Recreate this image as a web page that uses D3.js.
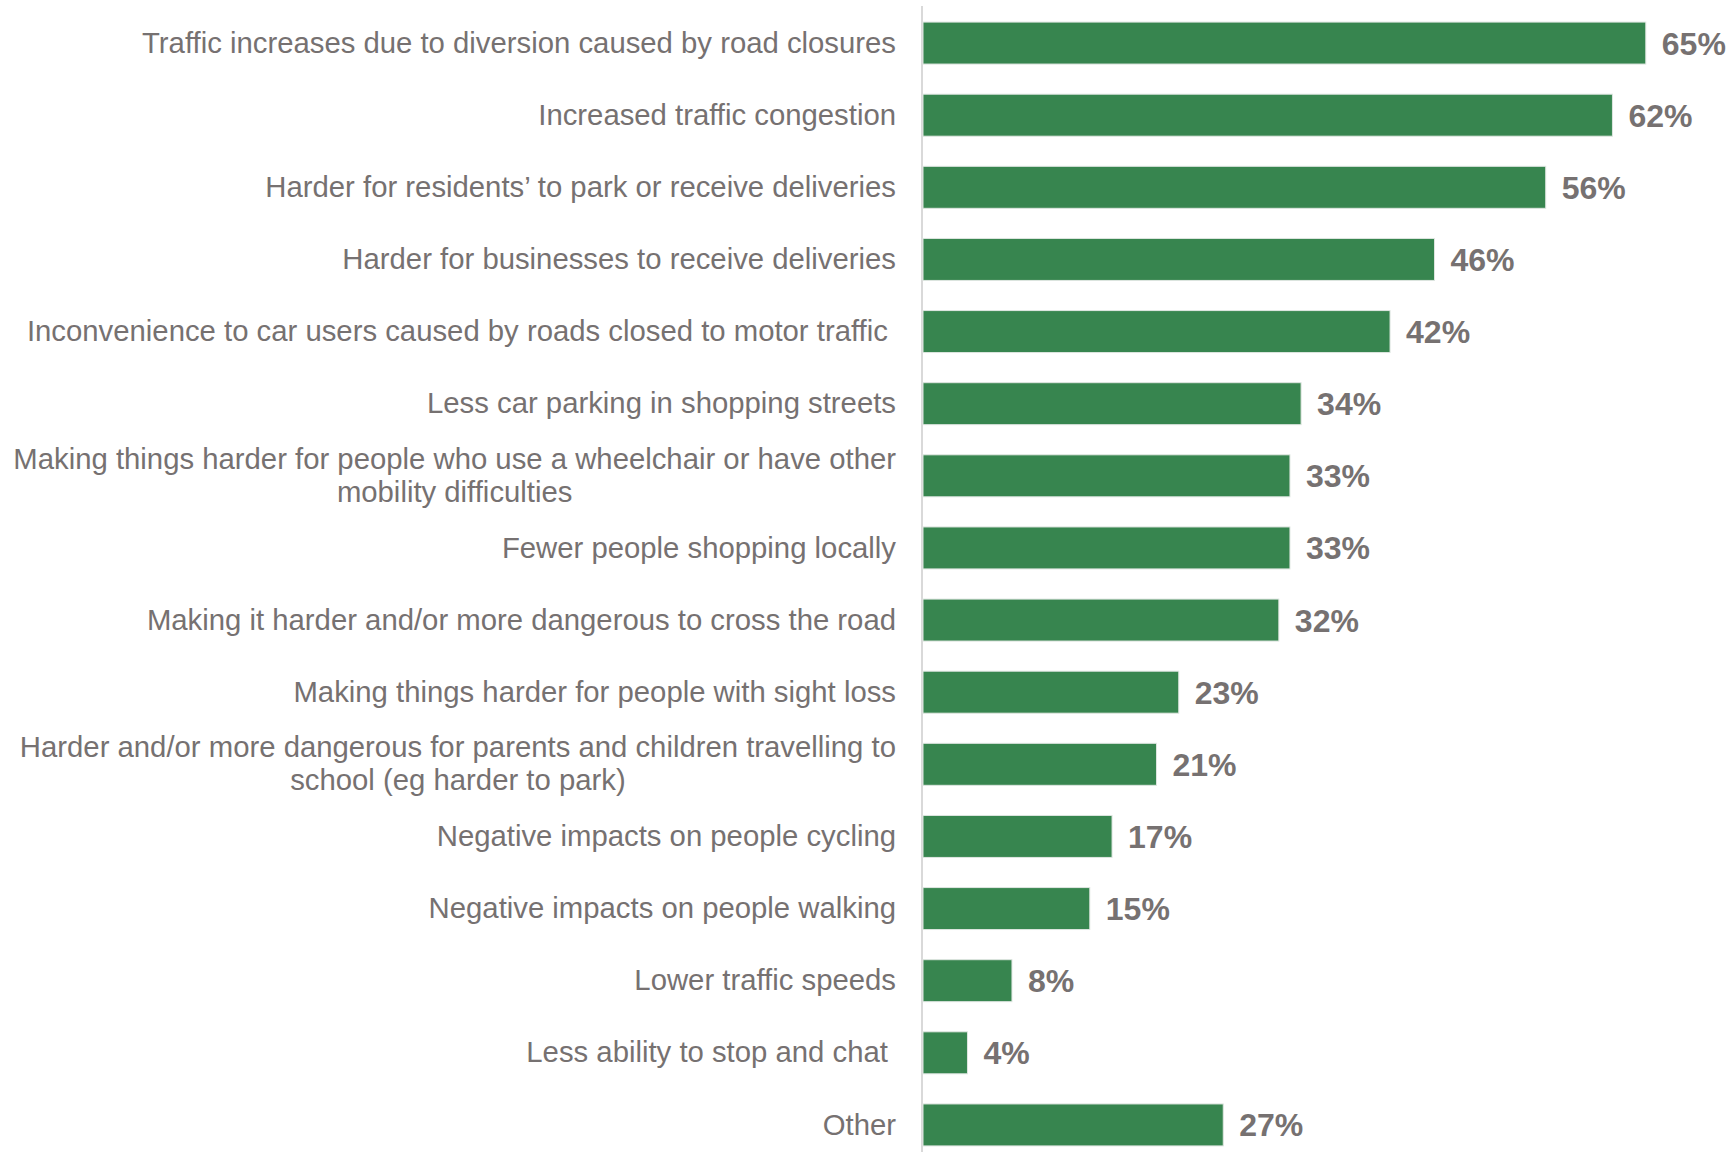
<!DOCTYPE html>
<html>
<head>
<meta charset="utf-8">
<script src="https://cdn.jsdelivr.net/npm/d3@7"></script>
<style>
  html, body { margin: 0; padding: 0; background: #ffffff; }
  svg { display: block; }
  text { font-family: "Liberation Sans", Arial, sans-serif; }
</style>
</head>
<body>
<script>
const categories = [
  "Traffic increases due to diversion caused by road closures",
  "Increased traffic congestion",
  "Harder for residents\u2019 to park or receive deliveries",
  "Harder for businesses to receive deliveries",
  "Inconvenience to car users caused by roads closed to motor traffic ",
  "Less car parking in shopping streets",
  "Making things harder for people who use a wheelchair or have other\nmobility difficulties",
  "Fewer people shopping locally",
  "Making it harder and/or more dangerous to cross the road",
  "Making things harder for people with sight loss",
  "Harder and/or more dangerous for parents and children travelling to\nschool (eg harder to park)",
  "Negative impacts on people cycling",
  "Negative impacts on people walking",
  "Lower traffic speeds",
  "Less ability to stop and chat ",
  "Other"
];
const values = [65, 62, 56, 46, 42, 34, 33, 33, 32, 23, 21, 17, 15, 8, 4, 27];
const valueLabels = values.map(v => v + "%");

const W = 1729, H = 1152;
const svg = d3.select("body").append("svg").attr("width", W).attr("height", H);

const x = d3.scaleLinear().domain([0, 100]).range([923, 923 + 1112]);
const y = d3.scaleBand().domain(d3.range(categories.length))
  .range([7, 1161]).paddingInner(0.418).paddingOuter(0.209);

const barColor = "#37854f";
const textColor = "#767171";

// axis line
svg.append("line")
  .attr("x1", 922).attr("x2", 922)
  .attr("y1", 6).attr("y2", H)
  .attr("stroke", "#d9d9d9").attr("stroke-width", 2);

// bars
svg.append("g").selectAll("rect").data(values).join("rect")
  .attr("x", x(0))
  .attr("y", (d, i) => y(i))
  .attr("width", d => x(d) - x(0))
  .attr("height", y.bandwidth())
  .attr("fill", barColor)
  .attr("stroke", "#dfe6e1")
  .attr("stroke-width", 1);

// value labels
svg.append("g").selectAll("text").data(values).join("text")
  .attr("x", d => x(d) + 16)
  .attr("y", (d, i) => y(i) + y.bandwidth() / 2)
  .attr("dy", "0.36em")
  .attr("fill", textColor)
  .attr("font-size", 32)
  .attr("font-weight", "bold")
  .text((d, i) => valueLabels[i]);

// category labels
const labelRight = 896;
const lineH = 33;
const fs = 29.3;
const lg = svg.append("g");
categories.forEach((c, i) => {
  const lines = c.split("\n");
  const cy = y(i) + y.bandwidth() / 2;
  if (lines.length === 1) {
    lg.append("text")
      .attr("x", labelRight)
      .attr("y", cy)
      .attr("dy", "0.33em")
      .attr("text-anchor", "end")
      .attr("fill", textColor)
      .attr("font-size", fs)
      .attr("xml:space", "preserve")
      .style("white-space", "pre")
      .text(lines[0]);
  } else {
    const t = lg.append("text")
      .attr("text-anchor", "middle")
      .attr("fill", textColor)
      .attr("font-size", fs)
      .attr("xml:space", "preserve")
      .style("white-space", "pre");
    const spans = lines.map((ln, k) => t.append("tspan")
      .attr("y", cy + (k - (lines.length - 1) / 2) * lineH)
      .attr("dy", "0.33em")
      .text(ln));
    const maxW = d3.max(spans, s => s.node().getComputedTextLength());
    spans.forEach(s => s.attr("x", labelRight - maxW / 2));
  }
});
</script>
</body>
</html>
